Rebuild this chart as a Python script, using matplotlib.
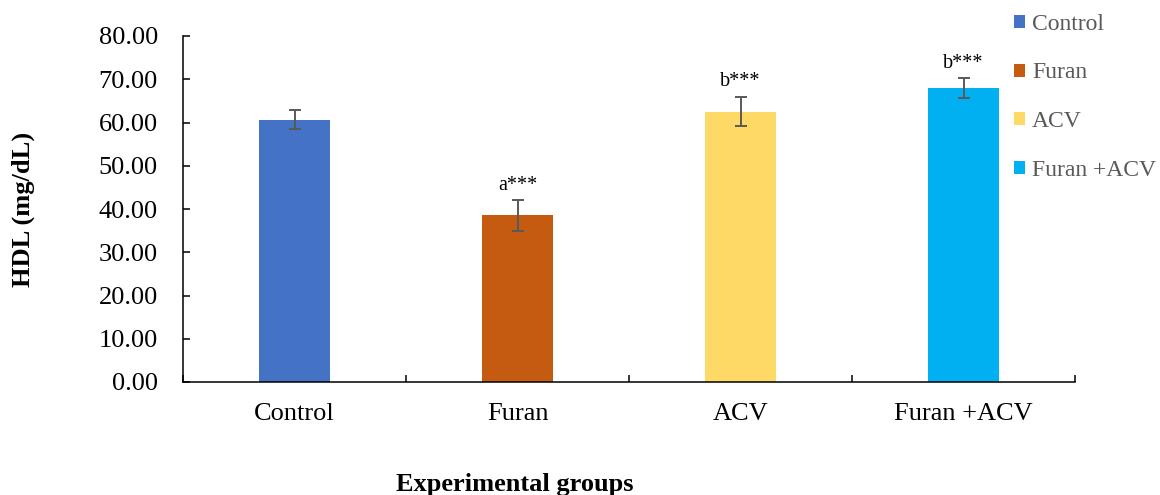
import matplotlib
matplotlib.use("Agg")
import matplotlib.pyplot as plt
from matplotlib.patches import Patch

plt.rcParams["font.family"] = ["Liberation Serif", "DejaVu Serif"]

groups = ["Control", "Furan", "ACV", "Furan +ACV"]
hdl_mean = [60.6, 38.5, 62.5, 67.9]
hdl_err = [2.2, 3.5, 3.4, 2.3]
sig_labels = ["", "a***", "b***", "b***"]
colors = ["#4472C4", "#C55A11", "#FFD966", "#00B0F0"]
err_color = "#595959"

fig = plt.figure(figsize=(11.6, 4.95), dpi=100)
ax = fig.add_axes([183 / 1160, 1 - 382 / 495, 892 / 1160, 346 / 495])

x = range(len(groups))
ax.bar(x, hdl_mean, width=0.314, color=colors, yerr=hdl_err,
       error_kw=dict(ecolor=err_color, elinewidth=1.4, capsize=4.5, capthick=1.4))

for i, (m, e, s) in enumerate(zip(hdl_mean, hdl_err, sig_labels)):
    if s:
        ax.annotate(s, (i, m + e), xytext=(0, 4), textcoords="offset points",
                    ha="center", va="bottom", fontsize=14.5)

ax.set_xlim(-0.5, len(groups) - 0.5)
ax.set_ylim(0, 80)
ax.set_yticks(range(0, 81, 10))
ax.set_yticklabels([f"{v:.2f}" for v in range(0, 81, 10)])
ax.set_xticks(list(x))
ax.set_xticklabels(groups)
ax.set_xticks([i - 0.5 for i in range(len(groups) + 1)], minor=True)

ax.tick_params(axis="y", direction="in", length=5, width=1.1, labelsize=19, pad=18)
ax.tick_params(axis="x", which="major", length=0, labelsize=19, pad=15)
ax.tick_params(axis="x", which="minor", direction="in", length=5, width=1.1)
for side in ("top", "right"):
    ax.spines[side].set_visible(False)
for side in ("left", "bottom"):
    ax.spines[side].set_linewidth(1.1)

ax.set_ylabel("HDL (mg/dL)", fontsize=19, fontweight="bold")
ax.yaxis.set_label_coords(-0.166, 0.5)
fig.text(515 / 1160, 1 - 485 / 495, "Experimental groups", fontsize=19,
         fontweight="bold", ha="center", va="center")

handles = [Patch(facecolor=c, edgecolor="none") for c in colors]
leg = fig.legend(handles, groups, loc="upper left", bbox_to_anchor=(1014 / 1160, 0.972),
                 frameon=False, fontsize=17, handlelength=0.47, handleheight=0.47,
                 handletextpad=0.3, labelspacing=1.17, borderpad=0, borderaxespad=0)
for t in leg.get_texts():
    t.set_color("#595959")

fig.savefig("out.png", dpi=100)
